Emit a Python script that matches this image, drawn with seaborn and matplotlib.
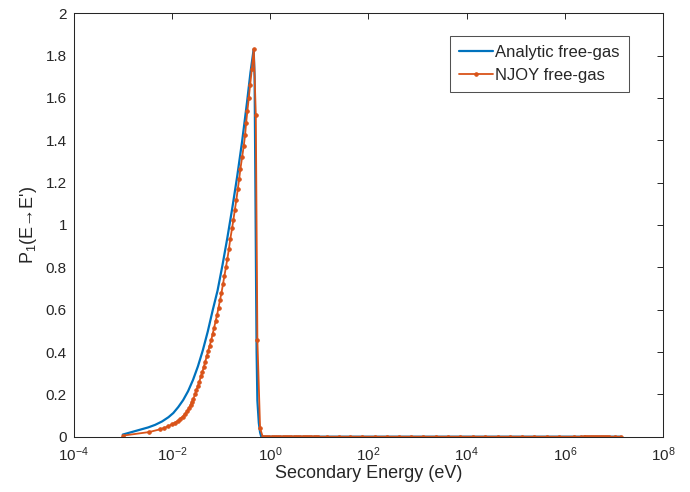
import numpy as np
import pandas as pd
import matplotlib
matplotlib.use('Agg')
import matplotlib.pyplot as plt
import seaborn as sns

# Analytic free-gas curve (log10 of secondary energy in eV, P1 value)
analytic_log_e = [-3.0, -2.48, -2.34, -2.2, -2.07, -1.97, -1.87, -1.77, -1.67, -1.57,
                  -1.47, -1.37, -1.27, -1.17, -1.07, -0.97, -0.87, -0.77, -0.67, -0.57,
                  -0.47, -0.40, -0.335,
                  -0.316, -0.30, -0.285, -0.275, -0.259, -0.23, -0.204, -0.18, 7.14]
analytic_p1 = [0.01, 0.044, 0.056, 0.072, 0.092, 0.112, 0.14, 0.173, 0.215, 0.268,
               0.332, 0.408, 0.496, 0.596, 0.69, 0.81, 0.94, 1.08, 1.23, 1.395,
               1.58, 1.72, 1.83,
               1.70, 1.2, 0.7, 0.40, 0.17, 0.065, 0.02, 0.0, 0.0]

# NJOY free-gas points
njoy_log_e = [-3.0, -2.46, -2.24, -2.15, -2.07, -2.0, -1.94, -1.88, -1.83, -1.78,
              -1.73, -1.69, -1.65, -1.62, -1.59, -1.56, -1.53, -1.50, -1.47, -1.44,
              -1.41, -1.38, -1.35, -1.32, -1.29, -1.26, -1.23, -1.20, -1.17, -1.14,
              -1.11, -1.08, -1.05, -1.02, -0.99, -0.96, -0.93, -0.90, -0.87, -0.84,
              -0.81, -0.774, -0.747, -0.719, -0.686, -0.658, -0.631, -0.605, -0.570, -0.536,
              -0.509, -0.489, -0.462, -0.434, -0.407, -0.373, -0.332, -0.291, -0.259, -0.204]
njoy_p1 = [0.005, 0.022, 0.035, 0.042, 0.05, 0.058, 0.066, 0.075, 0.085, 0.095,
           0.107, 0.12, 0.135, 0.15, 0.165, 0.18, 0.20, 0.22, 0.24, 0.26,
           0.285, 0.305, 0.33, 0.355, 0.38, 0.405, 0.43, 0.455, 0.485, 0.515,
           0.545, 0.575, 0.61, 0.645, 0.68, 0.72, 0.76, 0.80, 0.84, 0.885,
           0.935, 0.985, 1.025, 1.07, 1.12, 1.17, 1.215, 1.265, 1.32, 1.375,
           1.425, 1.48, 1.54, 1.60, 1.66, 1.735, 1.83, 1.52, 0.457, 0.04]

# NJOY tail (all zero)
njoy_tail_log_e = [-0.15, -0.10, -0.06, -0.015, 0.03, 0.075, 0.12, 0.165, 0.21, 0.255,
                   0.30, 0.345, 0.39, 0.435, 0.48, 0.525, 0.57, 0.615, 0.66, 0.705,
                   0.75, 0.795, 0.84, 0.885, 0.93, 0.975, 1.155, 1.40, 1.63, 1.88,
                   2.14, 2.38, 2.63, 2.87, 3.12, 3.37, 3.63, 3.87, 4.14, 4.38,
                   4.63, 4.88, 5.13, 5.38, 5.64, 5.88, 6.18, 6.33, 6.38, 6.42,
                   6.46, 6.50, 6.54, 6.58, 6.62, 6.66, 6.70, 6.74, 6.78, 6.82,
                   6.86, 6.90, 7.03, 7.14]
njoy_tail_p1 = [0.0, 0.0, 0.0, 0.0, 0.0, 0.0, 0.0, 0.0, 0.0, 0.0,
                0.0, 0.0, 0.0, 0.0, 0.0, 0.0, 0.0, 0.0, 0.0, 0.0,
                0.0, 0.0, 0.0, 0.0, 0.0, 0.0, 0.0, 0.0, 0.0, 0.0,
                0.0, 0.0, 0.0, 0.0, 0.0, 0.0, 0.0, 0.0, 0.0, 0.0,
                0.0, 0.0, 0.0, 0.0, 0.0, 0.0, 0.0, 0.0, 0.0, 0.0,
                0.0, 0.0, 0.0, 0.0, 0.0, 0.0, 0.0, 0.0, 0.0, 0.0,
                0.0, 0.0, 0.0, 0.0]

x_ticks = [1e-4, 1e-2, 1e0, 1e2, 1e4, 1e6, 1e8]
y_ticks = [0, 0.2, 0.4, 0.6, 0.8, 1, 1.2, 1.4, 1.6, 1.8, 2]
y_tick_labels = ['0', '0.2', '0.4', '0.6', '0.8', '1', '1.2', '1.4', '1.6', '1.8', '2']

blue = '#0072BD'
orange = '#D95319'
dark = '#262626'


def main():
    sns.set_style('white')
    plt.rcParams['font.family'] = ['Liberation Sans', 'DejaVu Sans']
    plt.rcParams['mathtext.fontset'] = 'custom'
    plt.rcParams['mathtext.rm'] = 'Liberation Sans'
    plt.rcParams['mathtext.it'] = 'Liberation Sans'

    analytic = pd.DataFrame({'E': np.power(10.0, analytic_log_e), 'P1': analytic_p1})
    njoy = pd.DataFrame({'E': np.power(10.0, njoy_log_e + njoy_tail_log_e),
                         'P1': njoy_p1 + njoy_tail_p1})

    fig = plt.figure(figsize=(6.9, 4.92), dpi=100)
    ax = fig.add_axes([0.1067, 0.1124, 0.8543, 0.8606])

    sns.lineplot(data=analytic, x='E', y='P1', ax=ax, color=blue, lw=1.6,
                 sort=False, estimator=None, label='Analytic free-gas')
    sns.lineplot(data=njoy, x='E', y='P1', ax=ax, color=orange, lw=1.3,
                 marker='.', markersize=5, mec=orange, mfc=orange,
                 sort=False, estimator=None, label='NJOY free-gas')

    ax.set_xscale('log')
    ax.set_xlim(1e-4, 1e8)
    ax.set_ylim(0, 2)
    ax.set_xticks(x_ticks)
    ax.xaxis.set_minor_locator(matplotlib.ticker.NullLocator())
    ax.set_yticks(y_ticks)
    ax.set_yticklabels(y_tick_labels)

    ax.tick_params(which='both', direction='in', length=4.3, width=0.7, colors=dark,
                   labelsize=11, top=True, right=True, pad=4.8)
    ax.tick_params(axis='x', pad=6)
    for s in ax.spines.values():
        s.set_color(dark)
        s.set_linewidth(0.75)

    ax.set_xlabel('Secondary Energy (eV)', fontsize=13, color=dark, labelpad=1)
    ax.set_ylabel("P$_1$(E\u2192E')", fontsize=13, color=dark, labelpad=5)

    leg = ax.legend(loc='upper right', bbox_to_anchor=(0.942, 0.946), fontsize=12,
                    frameon=True, fancybox=False, handlelength=2.0, handletextpad=0.15,
                    borderpad=0.55, labelspacing=0.45, borderaxespad=0)
    leg.get_frame().set_edgecolor(dark)
    leg.get_frame().set_linewidth(0.75)
    for t in leg.get_texts():
        t.set_color(dark)

    fig.savefig('out.png', dpi=100)


if __name__ == "__main__":
    main()
